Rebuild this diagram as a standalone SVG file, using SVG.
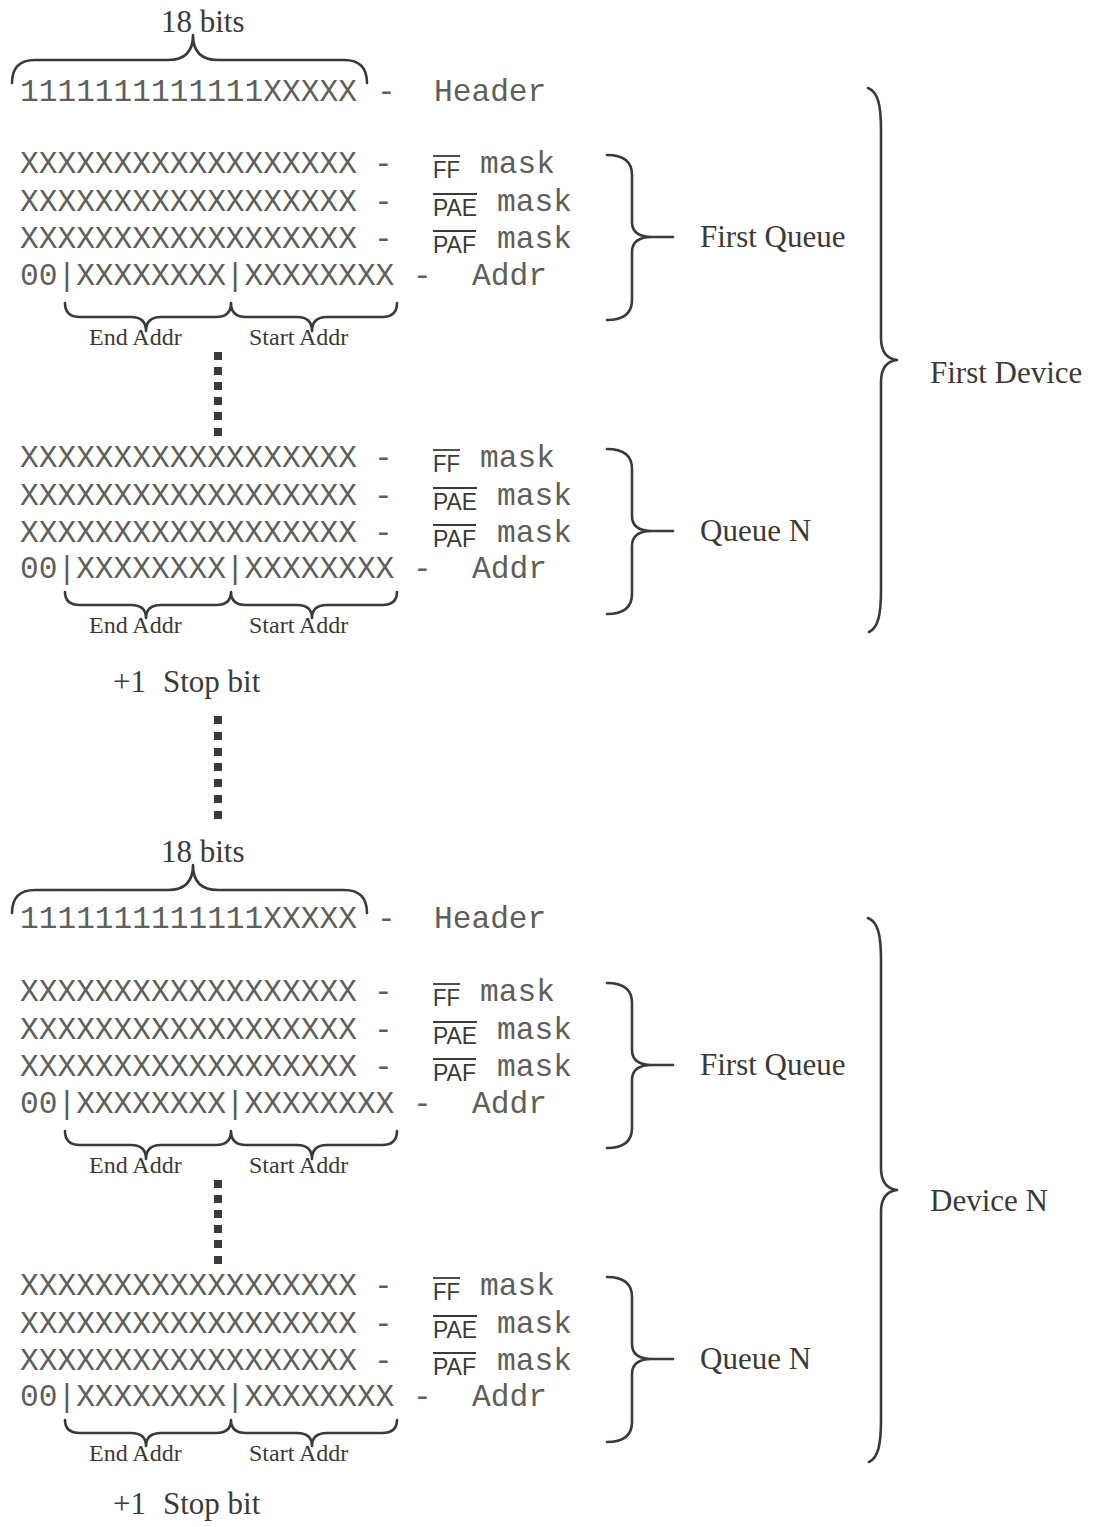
<svg xmlns="http://www.w3.org/2000/svg" width="1097" height="1527" viewBox="0 0 1097 1527">
<defs>
<style>
.mono{font-family:"Liberation Mono","Courier New",monospace;font-size:31.2px;fill:#5e5e5a}
.serif{font-family:"Liberation Serif","Times New Roman",serif;font-size:31px;fill:#3a3a36}
.small{font-family:"Liberation Serif","Times New Roman",serif;font-size:24px;fill:#3a3a36}
.sans{font-family:"Liberation Sans",Arial,sans-serif;font-size:24px;fill:#3a3a36}
.ov{stroke:#3a3a36;stroke-width:1.8}
.br{fill:none;stroke:#3a3a36;stroke-width:2.6;stroke-linecap:round;stroke-linejoin:round}
.dot{fill:#3a3a36}
</style>
</defs>
<rect width="1097" height="1527" fill="#ffffff"/>

<!-- ===== Device 1 ===== -->
<g id="device1">
  <g id="d1-header">
    <text class="serif" x="161" y="32" font-size="30">18 bits</text>
    <text class="mono" x="20" y="101">1111111111111XXXXX</text>
    <text class="mono" x="377" y="101">-</text>
    <text class="mono" x="434" y="101">Header</text>
  </g>
  <g id="d1-q1">
    <text class="mono" x="20" y="173">XXXXXXXXXXXXXXXXXX</text>
    <text class="mono" x="374" y="173">-</text>
    <text class="sans" x="433" y="178" textLength="27" lengthAdjust="spacingAndGlyphs">FF</text>
    <line class="ov" x1="433" y1="156" x2="460" y2="156"/>
    <text class="mono" x="480" y="173">mask</text>
    <text class="mono" x="20" y="211">XXXXXXXXXXXXXXXXXX</text>
    <text class="mono" x="374" y="211">-</text>
    <text class="sans" x="433" y="216" textLength="44" lengthAdjust="spacingAndGlyphs">PAE</text>
    <line class="ov" x1="433" y1="194" x2="477" y2="194"/>
    <text class="mono" x="497" y="211">mask</text>
    <text class="mono" x="20" y="248">XXXXXXXXXXXXXXXXXX</text>
    <text class="mono" x="374" y="248">-</text>
    <text class="sans" x="433" y="253" textLength="43" lengthAdjust="spacingAndGlyphs">PAF</text>
    <line class="ov" x1="433" y1="231" x2="476" y2="231"/>
    <text class="mono" x="497" y="248">mask</text>
    <text class="mono" x="20" y="285">00|XXXXXXXX|XXXXXXXX</text>
    <text class="mono" x="413" y="285">-</text>
    <text class="mono" x="472" y="285">Addr</text>
    <text class="small" x="89" y="345">End Addr</text>
    <text class="small" x="249" y="345">Start Addr</text>
    <text class="serif" x="700" y="247">First Queue</text>
  </g>
  <g id="d1-dots">
    <rect class="dot" x="214" y="352" width="8" height="8"/>
    <rect class="dot" x="214" y="367" width="8" height="8"/>
    <rect class="dot" x="214" y="382" width="8" height="8"/>
    <rect class="dot" x="214" y="397" width="8" height="8"/>
    <rect class="dot" x="214" y="412" width="8" height="8"/>
    <rect class="dot" x="214" y="428" width="8" height="8"/>
  </g>
  <g id="d1-qn">
    <text class="mono" x="20" y="467">XXXXXXXXXXXXXXXXXX</text>
    <text class="mono" x="374" y="467">-</text>
    <text class="sans" x="433" y="472" textLength="27" lengthAdjust="spacingAndGlyphs">FF</text>
    <line class="ov" x1="433" y1="450" x2="460" y2="450"/>
    <text class="mono" x="480" y="467">mask</text>
    <text class="mono" x="20" y="505">XXXXXXXXXXXXXXXXXX</text>
    <text class="mono" x="374" y="505">-</text>
    <text class="sans" x="433" y="510" textLength="44" lengthAdjust="spacingAndGlyphs">PAE</text>
    <line class="ov" x1="433" y1="488" x2="477" y2="488"/>
    <text class="mono" x="497" y="505">mask</text>
    <text class="mono" x="20" y="542">XXXXXXXXXXXXXXXXXX</text>
    <text class="mono" x="374" y="542">-</text>
    <text class="sans" x="433" y="547" textLength="43" lengthAdjust="spacingAndGlyphs">PAF</text>
    <line class="ov" x1="433" y1="525" x2="476" y2="525"/>
    <text class="mono" x="497" y="542">mask</text>
    <text class="mono" x="20" y="578">00|XXXXXXXX|XXXXXXXX</text>
    <text class="mono" x="413" y="578">-</text>
    <text class="mono" x="472" y="578">Addr</text>
    <text class="small" x="89" y="633">End Addr</text>
    <text class="small" x="249" y="633">Start Addr</text>
    <text class="serif" x="700" y="541">Queue N</text>
  </g>
  <g id="d1-label">
    <text class="serif" x="930" y="383">First Device</text>
  </g>
  <g id="d1-stop">
    <text class="serif" x="113" y="692">+1</text>
    <text class="serif" x="163" y="692">Stop bit</text>
  </g>
</g>

<g id="between-dots">
  <rect class="dot" x="214" y="716" width="8" height="8"/>
  <rect class="dot" x="214" y="732" width="8" height="8"/>
  <rect class="dot" x="214" y="748" width="8" height="8"/>
  <rect class="dot" x="214" y="763" width="8" height="8"/>
  <rect class="dot" x="214" y="779" width="8" height="8"/>
  <rect class="dot" x="214" y="795" width="8" height="8"/>
  <rect class="dot" x="214" y="811" width="8" height="8"/>
</g>

<!-- ===== Device N ===== -->
<g id="device2">
  <g id="d2-header">
    <text class="serif" x="161" y="862" font-size="30">18 bits</text>
    <text class="mono" x="20" y="928">1111111111111XXXXX</text>
    <text class="mono" x="377" y="928">-</text>
    <text class="mono" x="434" y="928">Header</text>
  </g>
  <g id="d2-body" transform="translate(0,828)">
  <g id="d2-q1">
    <text class="mono" x="20" y="173">XXXXXXXXXXXXXXXXXX</text>
    <text class="mono" x="374" y="173">-</text>
    <text class="sans" x="433" y="178" textLength="27" lengthAdjust="spacingAndGlyphs">FF</text>
    <line class="ov" x1="433" y1="156" x2="460" y2="156"/>
    <text class="mono" x="480" y="173">mask</text>
    <text class="mono" x="20" y="211">XXXXXXXXXXXXXXXXXX</text>
    <text class="mono" x="374" y="211">-</text>
    <text class="sans" x="433" y="216" textLength="44" lengthAdjust="spacingAndGlyphs">PAE</text>
    <line class="ov" x1="433" y1="194" x2="477" y2="194"/>
    <text class="mono" x="497" y="211">mask</text>
    <text class="mono" x="20" y="248">XXXXXXXXXXXXXXXXXX</text>
    <text class="mono" x="374" y="248">-</text>
    <text class="sans" x="433" y="253" textLength="43" lengthAdjust="spacingAndGlyphs">PAF</text>
    <line class="ov" x1="433" y1="231" x2="476" y2="231"/>
    <text class="mono" x="497" y="248">mask</text>
    <text class="mono" x="20" y="285">00|XXXXXXXX|XXXXXXXX</text>
    <text class="mono" x="413" y="285">-</text>
    <text class="mono" x="472" y="285">Addr</text>
    <text class="small" x="89" y="345">End Addr</text>
    <text class="small" x="249" y="345">Start Addr</text>
    <text class="serif" x="700" y="247">First Queue</text>
  </g>
  <g id="d2-dots">
    <rect class="dot" x="214" y="352" width="8" height="8"/>
    <rect class="dot" x="214" y="367" width="8" height="8"/>
    <rect class="dot" x="214" y="382" width="8" height="8"/>
    <rect class="dot" x="214" y="397" width="8" height="8"/>
    <rect class="dot" x="214" y="412" width="8" height="8"/>
    <rect class="dot" x="214" y="428" width="8" height="8"/>
  </g>
  <g id="d2-qn">
    <text class="mono" x="20" y="467">XXXXXXXXXXXXXXXXXX</text>
    <text class="mono" x="374" y="467">-</text>
    <text class="sans" x="433" y="472" textLength="27" lengthAdjust="spacingAndGlyphs">FF</text>
    <line class="ov" x1="433" y1="450" x2="460" y2="450"/>
    <text class="mono" x="480" y="467">mask</text>
    <text class="mono" x="20" y="505">XXXXXXXXXXXXXXXXXX</text>
    <text class="mono" x="374" y="505">-</text>
    <text class="sans" x="433" y="510" textLength="44" lengthAdjust="spacingAndGlyphs">PAE</text>
    <line class="ov" x1="433" y1="488" x2="477" y2="488"/>
    <text class="mono" x="497" y="505">mask</text>
    <text class="mono" x="20" y="542">XXXXXXXXXXXXXXXXXX</text>
    <text class="mono" x="374" y="542">-</text>
    <text class="sans" x="433" y="547" textLength="43" lengthAdjust="spacingAndGlyphs">PAF</text>
    <line class="ov" x1="433" y1="525" x2="476" y2="525"/>
    <text class="mono" x="497" y="542">mask</text>
    <text class="mono" x="20" y="578">00|XXXXXXXX|XXXXXXXX</text>
    <text class="mono" x="413" y="578">-</text>
    <text class="mono" x="472" y="578">Addr</text>
    <text class="small" x="89" y="633">End Addr</text>
    <text class="small" x="249" y="633">Start Addr</text>
    <text class="serif" x="700" y="541">Queue N</text>
  </g>
  <g id="d2-label">
    <text class="serif" x="930" y="383">Device N</text>
  </g>
  </g>
  <g id="d2-stop">
    <text class="serif" x="113" y="1514">+1</text>
    <text class="serif" x="163" y="1514">Stop bit</text>
  </g>
</g>

<!-- ===== Braces (connectors) ===== -->
<g id="connectors">
  <g id="d1-braces">
    <path class="br" d="M12,83 Q12,60 35,60 L168,60 Q193,60 193,35 Q193,60 218,60 L344,60 Q367,60 367,83"/>
    <path class="br" d="M65,303 Q65,317 80,317 L131,317 Q146,317 146,331 Q146,317 161,317 L216,317 Q231,317 231,303 Q231,317 246,317 L297,317 Q312,317 312,331 Q312,317 327,317 L382,317 Q397,317 397,303"/>
    <path class="br" d="M65,592 Q65,605 80,605 L131,605 Q146,605 146,618 Q146,605 161,605 L216,605 Q231,605 231,592 Q231,605 246,605 L297,605 Q312,605 312,618 Q312,605 327,605 L382,605 Q397,605 397,592"/>
    <path class="br" d="M607,155 Q632,155 632,175 L632,222 Q632,237 652,237 L673,237 M652,237 Q632,237 632,252 L632,300 Q632,320 607,320"/>
    <path class="br" d="M607,449 Q632,449 632,469 L632,516 Q632,531 652,531 L673,531 M652,531 Q632,531 632,546 L632,594 Q632,614 607,614"/>
    <path class="br" d="M868,88 C878,92 881,105 881,130 L881,338 Q881,358 897,360 Q881,362 881,382 L881,590 C881,615 878,628 869,632"/>
  </g>
  <g id="d2-braces">
    <path class="br" d="M12,913 Q12,890 35,890 L168,890 Q193,890 193,865 Q193,890 218,890 L344,890 Q367,890 367,913"/>
    <g transform="translate(0,828)">
    <path class="br" d="M65,303 Q65,317 80,317 L131,317 Q146,317 146,331 Q146,317 161,317 L216,317 Q231,317 231,303 Q231,317 246,317 L297,317 Q312,317 312,331 Q312,317 327,317 L382,317 Q397,317 397,303"/>
    <path class="br" d="M65,592 Q65,605 80,605 L131,605 Q146,605 146,618 Q146,605 161,605 L216,605 Q231,605 231,592 Q231,605 246,605 L297,605 Q312,605 312,618 Q312,605 327,605 L382,605 Q397,605 397,592"/>
    <path class="br" d="M607,155 Q632,155 632,175 L632,222 Q632,237 652,237 L673,237 M652,237 Q632,237 632,252 L632,300 Q632,320 607,320"/>
    <path class="br" d="M607,449 Q632,449 632,469 L632,516 Q632,531 652,531 L673,531 M652,531 Q632,531 632,546 L632,594 Q632,614 607,614"/>
    <path class="br" d="M868,90 C878,94 881,107 881,132 L881,340 Q881,360 897,362 Q881,364 881,384 L881,592 C881,617 878,630 869,634"/>
    </g>
  </g>
</g>
</svg>
